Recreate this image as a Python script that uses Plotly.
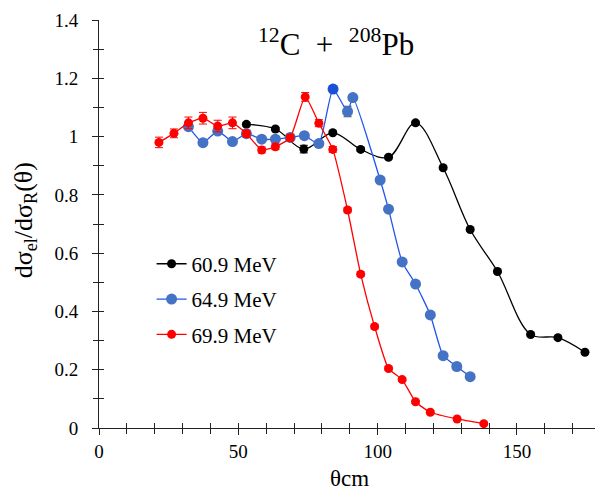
import plotly.graph_objects as go

# ---- data ----
black_x = [52.9, 63.3, 73.5, 83.9, 93.9, 103.9, 113.6, 123.5, 133.2, 143.0, 154.9, 164.7, 174.4]
black_y = [1.042, 1.026, 0.957, 1.013, 0.956, 0.929, 1.047, 0.893, 0.681, 0.537, 0.321, 0.310, 0.260]
black_err = [0.006, 0.006, 0.013, 0.006, 0.006, 0.006, 0.006, 0.006, 0.005, 0.005, 0.005, 0.005, 0.005]

blue_x = [32.1, 37.3, 42.6, 47.9, 52.9, 58.4, 63.3, 68.6, 73.7, 78.9, 84.0, 89.2, 91.1,
          100.9, 103.9, 108.8, 113.6, 118.9, 123.5, 128.4, 133.2]
blue_y = [1.034, 0.979, 1.019, 0.983, 1.010, 0.991, 0.991, 0.997, 1.003, 0.976, 1.163, 1.086, 1.134,
          0.851, 0.751, 0.570, 0.494, 0.388, 0.248, 0.211, 0.176]
blue_err = [0.008, 0.008, 0.008, 0.008, 0.008, 0.008, 0.008, 0.008, 0.008, 0.010, 0.012, 0.018, 0.010,
            0.006, 0.006, 0.006, 0.006, 0.006, 0.005, 0.005, 0.005]

red_x = [21.5, 26.9, 32.1, 37.3, 42.6, 47.9, 52.9, 58.4, 63.3, 68.6, 74.0, 78.9, 83.9, 89.2,
         93.9, 98.9, 103.9, 108.8, 113.6, 118.9, 128.5, 138.1]
red_y = [0.980, 1.011, 1.047, 1.063, 1.036, 1.047, 1.010, 0.954, 0.965, 0.996, 1.136, 1.046, 0.956, 0.748,
         0.528, 0.348, 0.204, 0.166, 0.090, 0.054, 0.031, 0.015]
red_err = [0.018, 0.015, 0.020, 0.020, 0.020, 0.020, 0.012, 0.010, 0.010, 0.010, 0.015, 0.012, 0.010, 0.008,
           0.008, 0.008, 0.006, 0.006, 0.005, 0.005, 0.004, 0.004]

labels = ["60.9 MeV", "64.9 MeV", "69.9 MeV"]

FONT = "Liberation Serif, Times New Roman, serif"

fig = go.Figure()

def add(x, y, err, name, lcol, mcol, msize, smooth, grp, ecol):
    fig.add_trace(go.Scatter(
        x=x, y=y, name=name, mode="lines+markers", legendgroup=grp,
        line=dict(color=lcol, width=1.3, shape="spline", smoothing=smooth),
        marker=dict(color=mcol, size=msize),
        error_y=dict(type="data", array=err, visible=True, color=ecol, thickness=1, width=4),
    ))

# the peak point of the 64.9 MeV set is drawn in a darker blue in the reference
peak = blue_y.index(max(blue_y))
blue_cols = ["#1A4FD8" if i == peak else "#4472C4" for i in range(len(blue_y))]

add(black_x, black_y, black_err, labels[0], "#000000", "#000000", 9, 1.0, "a", "#000000")
add(blue_x, blue_y, blue_err, labels[1], "#2255EE", blue_cols, 11, 0.5, "b", "#444444")
add(red_x, red_y, red_err, labels[2], "#FF0000", "#FF0000", 9, 0.5, "c", "#FF0000")

# invisible trace to activate overlay axes (for crossing ticks)
fig.add_trace(go.Scatter(x=[None], y=[None], xaxis="x2", yaxis="y2", showlegend=False,
                         hoverinfo="skip"))

tk = dict(showgrid=False, zeroline=False, tickcolor="#222", tickwidth=1)

fig.update_layout(
    width=595, height=493,
    paper_bgcolor="white", plot_bgcolor="white",
    margin=dict(l=99, r=0, t=20, b=65, autoexpand=False),
    font=dict(family=FONT, size=19, color="black"),
    xaxis=dict(range=[0, 178], dtick=50, ticks="outside", ticklen=6, showline=True,
               linecolor="#222", linewidth=1,
               tickfont=dict(size=19), minor=dict(dtick=10, ticks="outside", ticklen=5, tickcolor="#222"),
               **tk),
    yaxis=dict(range=[0, 1.4], dtick=0.2, ticks="outside", ticklen=6, showline=True,
               linecolor="#222", linewidth=1, ticklabelstandoff=10,
               tickfont=dict(size=19), minor=dict(dtick=0.1, ticks="outside", ticklen=5, tickcolor="#222"),
               **tk),
    xaxis2=dict(range=[0, 178], dtick=10, ticks="inside", ticklen=5, overlaying="x", anchor="y",
                showticklabels=False, showline=False, **tk),
    yaxis2=dict(range=[0, 1.4], dtick=0.1, ticks="inside", ticklen=5, overlaying="y", anchor="x",
                showticklabels=False, showline=False, **tk),
    showlegend=True,
    legend=dict(x=0.106, y=0.452, xanchor="left", yanchor="top", bgcolor="rgba(0,0,0,0)",
                font=dict(size=21, family=FONT), tracegroupgap=5, traceorder="grouped",
                itemwidth=30),
    annotations=[
        dict(text="<sup>12</sup>C&nbsp; + &nbsp;<sup>208</sup>Pb", xref="paper", yref="paper", x=0.478, y=0.946,
             showarrow=False, font=dict(size=31, family=FONT), xanchor="center", yanchor="middle"),
        dict(text="dσ<sub>el</sub>/dσ<sub>R</sub>(θ)", xref="paper", yref="paper", x=-0.15, y=0.508,
             showarrow=False, textangle=-90, font=dict(size=26, family=FONT), xanchor="center", yanchor="middle"),
        dict(text="θcm", xref="paper", yref="paper", x=0.506, y=-0.124,
             showarrow=False, font=dict(size=23, family=FONT), xanchor="center", yanchor="middle"),
    ],
)

fig.write_html("out.html", config={"displayModeBar": False},
               post_script="document.body.style.margin='0';document.body.style.padding='0';")
